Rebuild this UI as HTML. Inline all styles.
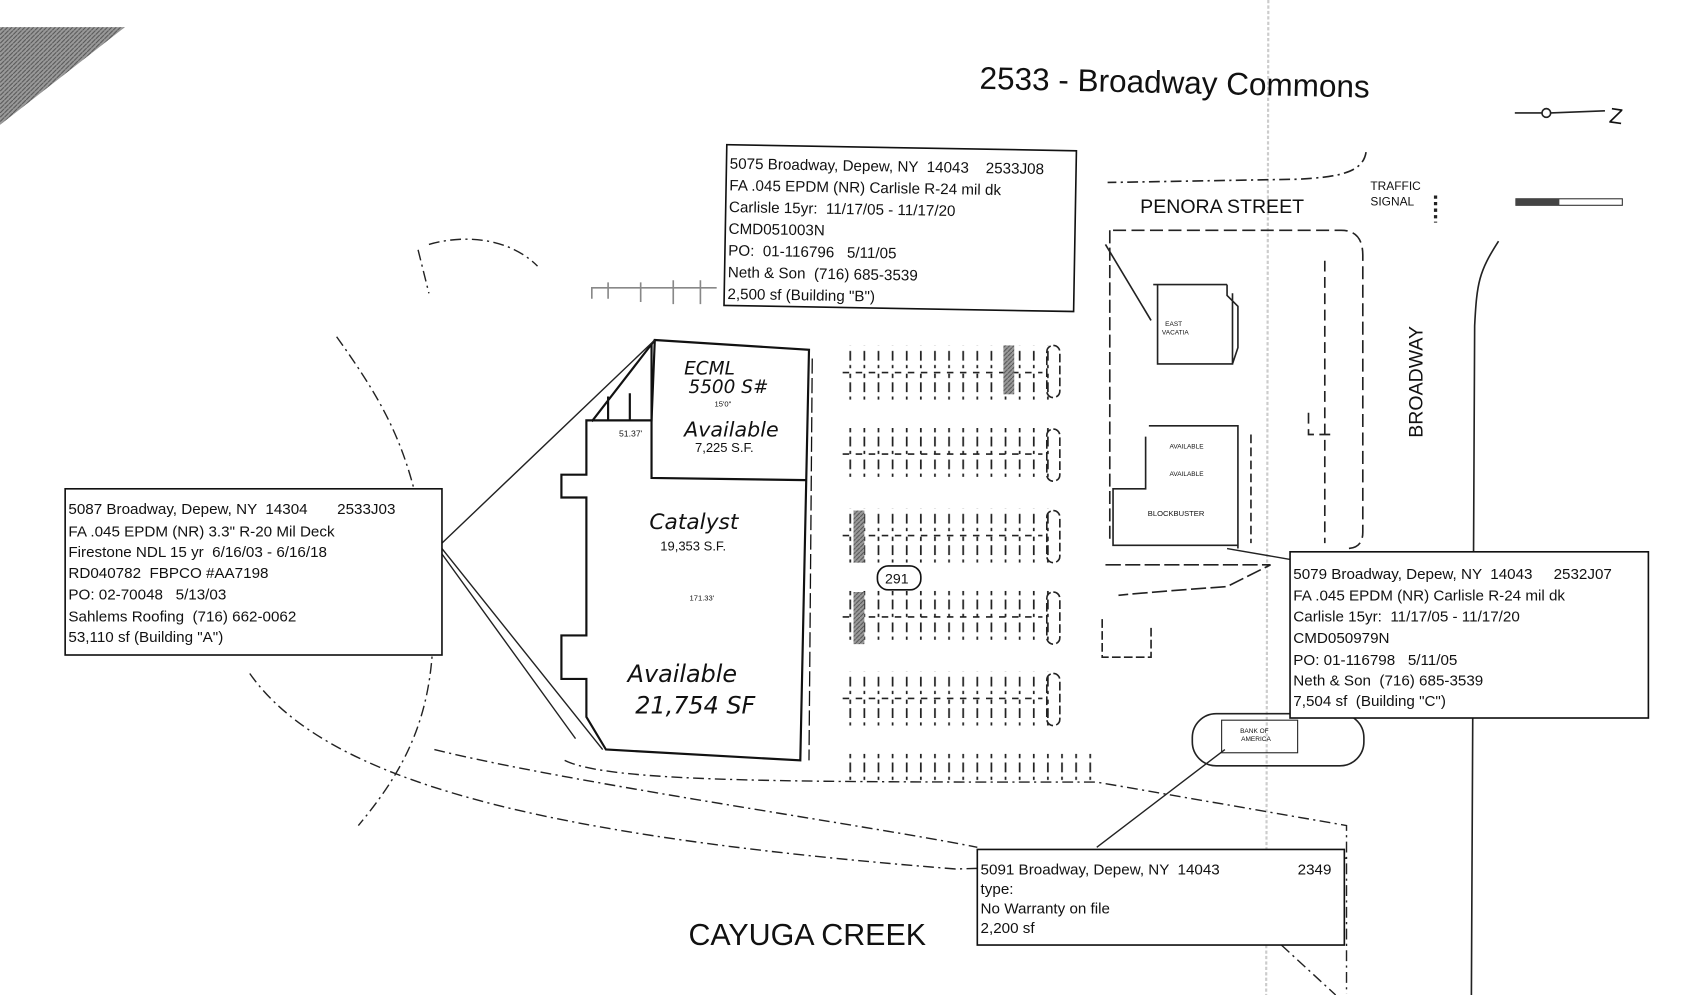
<!DOCTYPE html>
<html><head><meta charset="utf-8"><style>
html,body{margin:0;padding:0;background:#fff;}
svg{display:block}
text{font-family:"Liberation Sans",sans-serif;fill:#111}
.b{font-size:14px;white-space:pre}
.h{font-family:"DejaVu Sans","Liberation Sans",sans-serif;font-style:italic}
</style></head><body>
<svg width="1694" height="995" viewBox="0 0 1560 916" preserveAspectRatio="none" xmlns="http://www.w3.org/2000/svg">
<defs>
<pattern id="hatch" width="4" height="4" patternUnits="userSpaceOnUse"><rect width="4" height="4" fill="#9a9a9a"/><path d="M0 4L4 0" stroke="#555" stroke-width="1"/></pattern>
<pattern id="pk" width="13" height="50" patternUnits="userSpaceOnUse"><path d="M3 2V48" stroke="#222" stroke-width="1.6" stroke-dasharray="9 4 3 5"/></pattern>
</defs>
<rect width="1560" height="916" fill="#fff"/>
<polygon points="0,25 115,25 0,115" fill="url(#hatch)"/>
<line x1="1168" y1="0" x2="1166" y2="916" stroke="#ccc" stroke-width="2" stroke-dasharray="3 2"/>

<text x="902" y="86" font-size="29" transform="rotate(1.3 1090 80)">2533 - Broadway Commons</text>
<g stroke="#222" stroke-width="1.5" fill="none"><path d="M1395 104H1420M1428 104L1478 102"/><circle cx="1424" cy="104" r="4"/></g>
<text x="1482" y="114" font-size="20" transform="rotate(8 1490 108)">Z</text>
<rect x="1396" y="183" width="98" height="6" fill="none" stroke="#333"/><rect x="1396" y="183" width="40" height="6" fill="#444"/>

<g fill="none" stroke="#222" stroke-width="1.5">
<path d="M1258 140 C1255 160 1230 163 1195 165 L1020 168" stroke-dasharray="10 4 2 4"/>
<path d="M1380 222 C1362 250 1360 260 1358 300 L1355 916"/>
<path d="M1025 212 H1235 Q1255 212 1255 235 V490 Q1255 505 1240 505" stroke-dasharray="12 5"/>
<path d="M1022 212 V500" stroke-dasharray="12 4"/>
<rect x="1098" y="657" width="158" height="48" rx="22"/>
<rect x="1125" y="663" width="70" height="30" stroke-width="1"/>
<path d="M1062 262 H1130 M1066 262 V335 H1135 V270 M1130 262 V272 L1140 282 V320 L1135 335"/>
<path d="M1058 392 H1140 V505 M1055 402 V450 H1025 V502 H1140"/>
<path d="M1018 520 Q1100 520 1170 520 L1130 540 Q1060 545 1030 548" stroke-dasharray="14 4"/>
<path d="M1015 570 V605 H1060 V575" stroke-dasharray="8 3"/>
<path d="M1018 225 L1060 295"/>
<path d="M1220 240 V500 M1205 380 V400 H1225" stroke-dasharray="10 5"/>
<path d="M1152 400 V500" stroke-dasharray="8 4"/>
</g>
<text x="1073" y="300" font-size="6">EAST</text><text x="1070" y="308" font-size="6">VACATIA</text>
<text x="1077" y="413" font-size="6">AVAILABLE</text><text x="1077" y="438" font-size="6">AVAILABLE</text>
<text x="1057" y="475" font-size="7">BLOCKBUSTER</text>
<text x="1142" y="675" font-size="6">BANK OF</text><text x="1143" y="682" font-size="6">AMERICA</text>

<g fill="none" stroke="#222" stroke-width="1.3" stroke-dasharray="10 4 2 4">
<path d="M310 310 C360 380 380 420 395 520 C410 640 380 700 330 760"/>
<path d="M230 620 C300 720 500 770 880 800 L1240 790"/>
<path d="M400 690 C520 720 800 760 900 780"/>
<path d="M520 700 C560 720 720 720 1010 720 L1240 760 V915"/>
<path d="M395 225 C430 215 470 220 495 245 M385 230 L395 270" />
<path d="M1180 870 L1230 916"/>
</g>
<path d="M545 275 V265 H660 M560 260V275 M590 260V278 M620 258V280 M645 258V280" stroke="#888" fill="none" stroke-width="1.5"/>

<g fill="none" stroke="#111" stroke-width="2">
<polygon points="603,313 745,322 737,700 558,690 540,660 540,625 517,625 517,585 540,585 540,458 517,458 517,437 540,437 540,387 600,387"/>
<path d="M600 316 V440 L742 442"/>
<path d="M603 313 L545 388 M560 365 V388 M580 362 V388"/>
<line x1="748" y1="330" x2="745" y2="700" stroke-width="1.2" stroke-dasharray="14 4"/>
</g>
<text x="570" y="402" font-size="8">51.37'</text>
<text x="658" y="374" font-size="7">15'0"</text>
<text x="635" y="553" font-size="7">171.33'</text>
<text class="h" x="630" y="345" font-size="17">ECML</text>
<text class="h" x="634" y="362" font-size="17">5500 S#</text>
<text class="h" x="630" y="402" font-size="19">Available</text>
<text x="640" y="416" font-size="12">7,225 S.F.</text>
<text class="h" x="598" y="487" font-size="20">Catalyst</text>
<text x="608" y="507" font-size="12">19,353 S.F.</text>
<text class="h" x="578" y="628" font-size="22">Available</text>
<text class="h" x="585" y="657" font-size="22">21,754 SF</text>

<g>
<rect x="776" y="318" width="190" height="50" fill="url(#pk)"/>
<rect x="776" y="393" width="190" height="50" fill="url(#pk)"/>
<rect x="776" y="468" width="190" height="50" fill="url(#pk)"/>
<rect x="776" y="543" width="190" height="50" fill="url(#pk)"/>
<rect x="776" y="618" width="190" height="50" fill="url(#pk)"/>
<rect x="776" y="690" width="235" height="30" fill="url(#pk)"/>
</g>
<g fill="none" stroke="#222" stroke-width="1.5" stroke-dasharray="8 3">
<rect x="964" y="318" width="12" height="48" rx="6"/><rect x="964" y="395" width="12" height="48" rx="6"/>
<rect x="964" y="470" width="12" height="48" rx="6"/><rect x="964" y="545" width="12" height="48" rx="6"/>
<rect x="964" y="620" width="12" height="48" rx="6"/>
<path d="M776 343H960M776 418H960M776 493H960M776 568H960M776 643H960" stroke-dasharray="6 6"/>
</g>
<rect x="924" y="318" width="10" height="45" fill="url(#hatch)"/>
<rect x="786" y="470" width="10" height="48" fill="url(#hatch)"/>
<rect x="786" y="545" width="10" height="48" fill="url(#hatch)"/>
<rect x="808" y="521" width="40" height="22" rx="10" fill="#fff" stroke="#111" stroke-width="1.5"/>
<text x="815" y="537" font-size="13">291</text>

<text x="1050" y="196" font-size="18">PENORA STREET</text>
<text x="1262" y="175" font-size="11">TRAFFIC</text><text x="1262" y="189" font-size="11">SIGNAL</text>
<path d="M1322 180V205" stroke="#222" stroke-width="3" stroke-dasharray="3 3"/>
<text x="0" y="0" font-size="18" transform="translate(1310 403) rotate(-90)">BROADWAY</text>
<text x="634" y="870" font-size="28">CAYUGA CREEK</text>

<g stroke="#222" stroke-width="1.3" fill="none">
<path d="M407 500 L603 313 M407 505 L555 690 M407 510 L530 680"/>
<path d="M1010 780 L1128 690"/>
<path d="M1188 515 L1130 505"/>
</g>

<g transform="rotate(1 830 210)">
<rect x="668" y="136" width="322" height="148" fill="#fff" stroke="#111" stroke-width="1.5"/>
<text class="b" x="671" y="158">5075 Broadway, Depew, NY  14043    2533J08</text>
<text class="b" x="671" y="178">FA .045 EPDM (NR) Carlisle R-24 mil dk</text>
<text class="b" x="671" y="198">Carlisle 15yr:  11/17/05 - 11/17/20</text>
<text class="b" x="671" y="218">CMD051003N</text>
<text class="b" x="671" y="238">PO:  01-116796   5/11/05</text>
<text class="b" x="671" y="258">Neth &amp; Son  (716) 685-3539</text>
<text class="b" x="671" y="278">2,500 sf (Building "B")</text>
</g>
<rect x="60" y="450" width="347" height="153" fill="#fff" stroke="#111" stroke-width="1.5"/>
<text class="b" x="63" y="473">5087 Broadway, Depew, NY  14304       2533J03</text>
<text class="b" x="63" y="494">FA .045 EPDM (NR) 3.3" R-20 Mil Deck</text>
<text class="b" x="63" y="513">Firestone NDL 15 yr  6/16/03 - 6/16/18</text>
<text class="b" x="63" y="532">RD040782  FBPCO #AA7198</text>
<text class="b" x="63" y="552">PO: 02-70048   5/13/03</text>
<text class="b" x="63" y="572">Sahlems Roofing  (716) 662-0062</text>
<text class="b" x="63" y="591">53,110 sf (Building "A")</text>
<rect x="1188" y="508" width="330" height="153" fill="#fff" stroke="#111" stroke-width="1.5"/>
<text class="b" x="1191" y="533">5079 Broadway, Depew, NY  14043     2532J07</text>
<text class="b" x="1191" y="553">FA .045 EPDM (NR) Carlisle R-24 mil dk</text>
<text class="b" x="1191" y="572">Carlisle 15yr:  11/17/05 - 11/17/20</text>
<text class="b" x="1191" y="592">CMD050979N</text>
<text class="b" x="1191" y="612">PO: 01-116798   5/11/05</text>
<text class="b" x="1191" y="631">Neth &amp; Son  (716) 685-3539</text>
<text class="b" x="1191" y="650">7,504 sf  (Building "C")</text>
<rect x="900" y="782" width="338" height="88" fill="#fff" stroke="#111" stroke-width="1.5"/>
<text class="b" x="903" y="805">5091 Broadway, Depew, NY  14043</text><text class="b" x="1195" y="805">2349</text>
<text class="b" x="903" y="823">type:</text>
<text class="b" x="903" y="841">No Warranty on file</text>
<text class="b" x="903" y="859">2,200 sf</text>
</svg>
</body></html>
